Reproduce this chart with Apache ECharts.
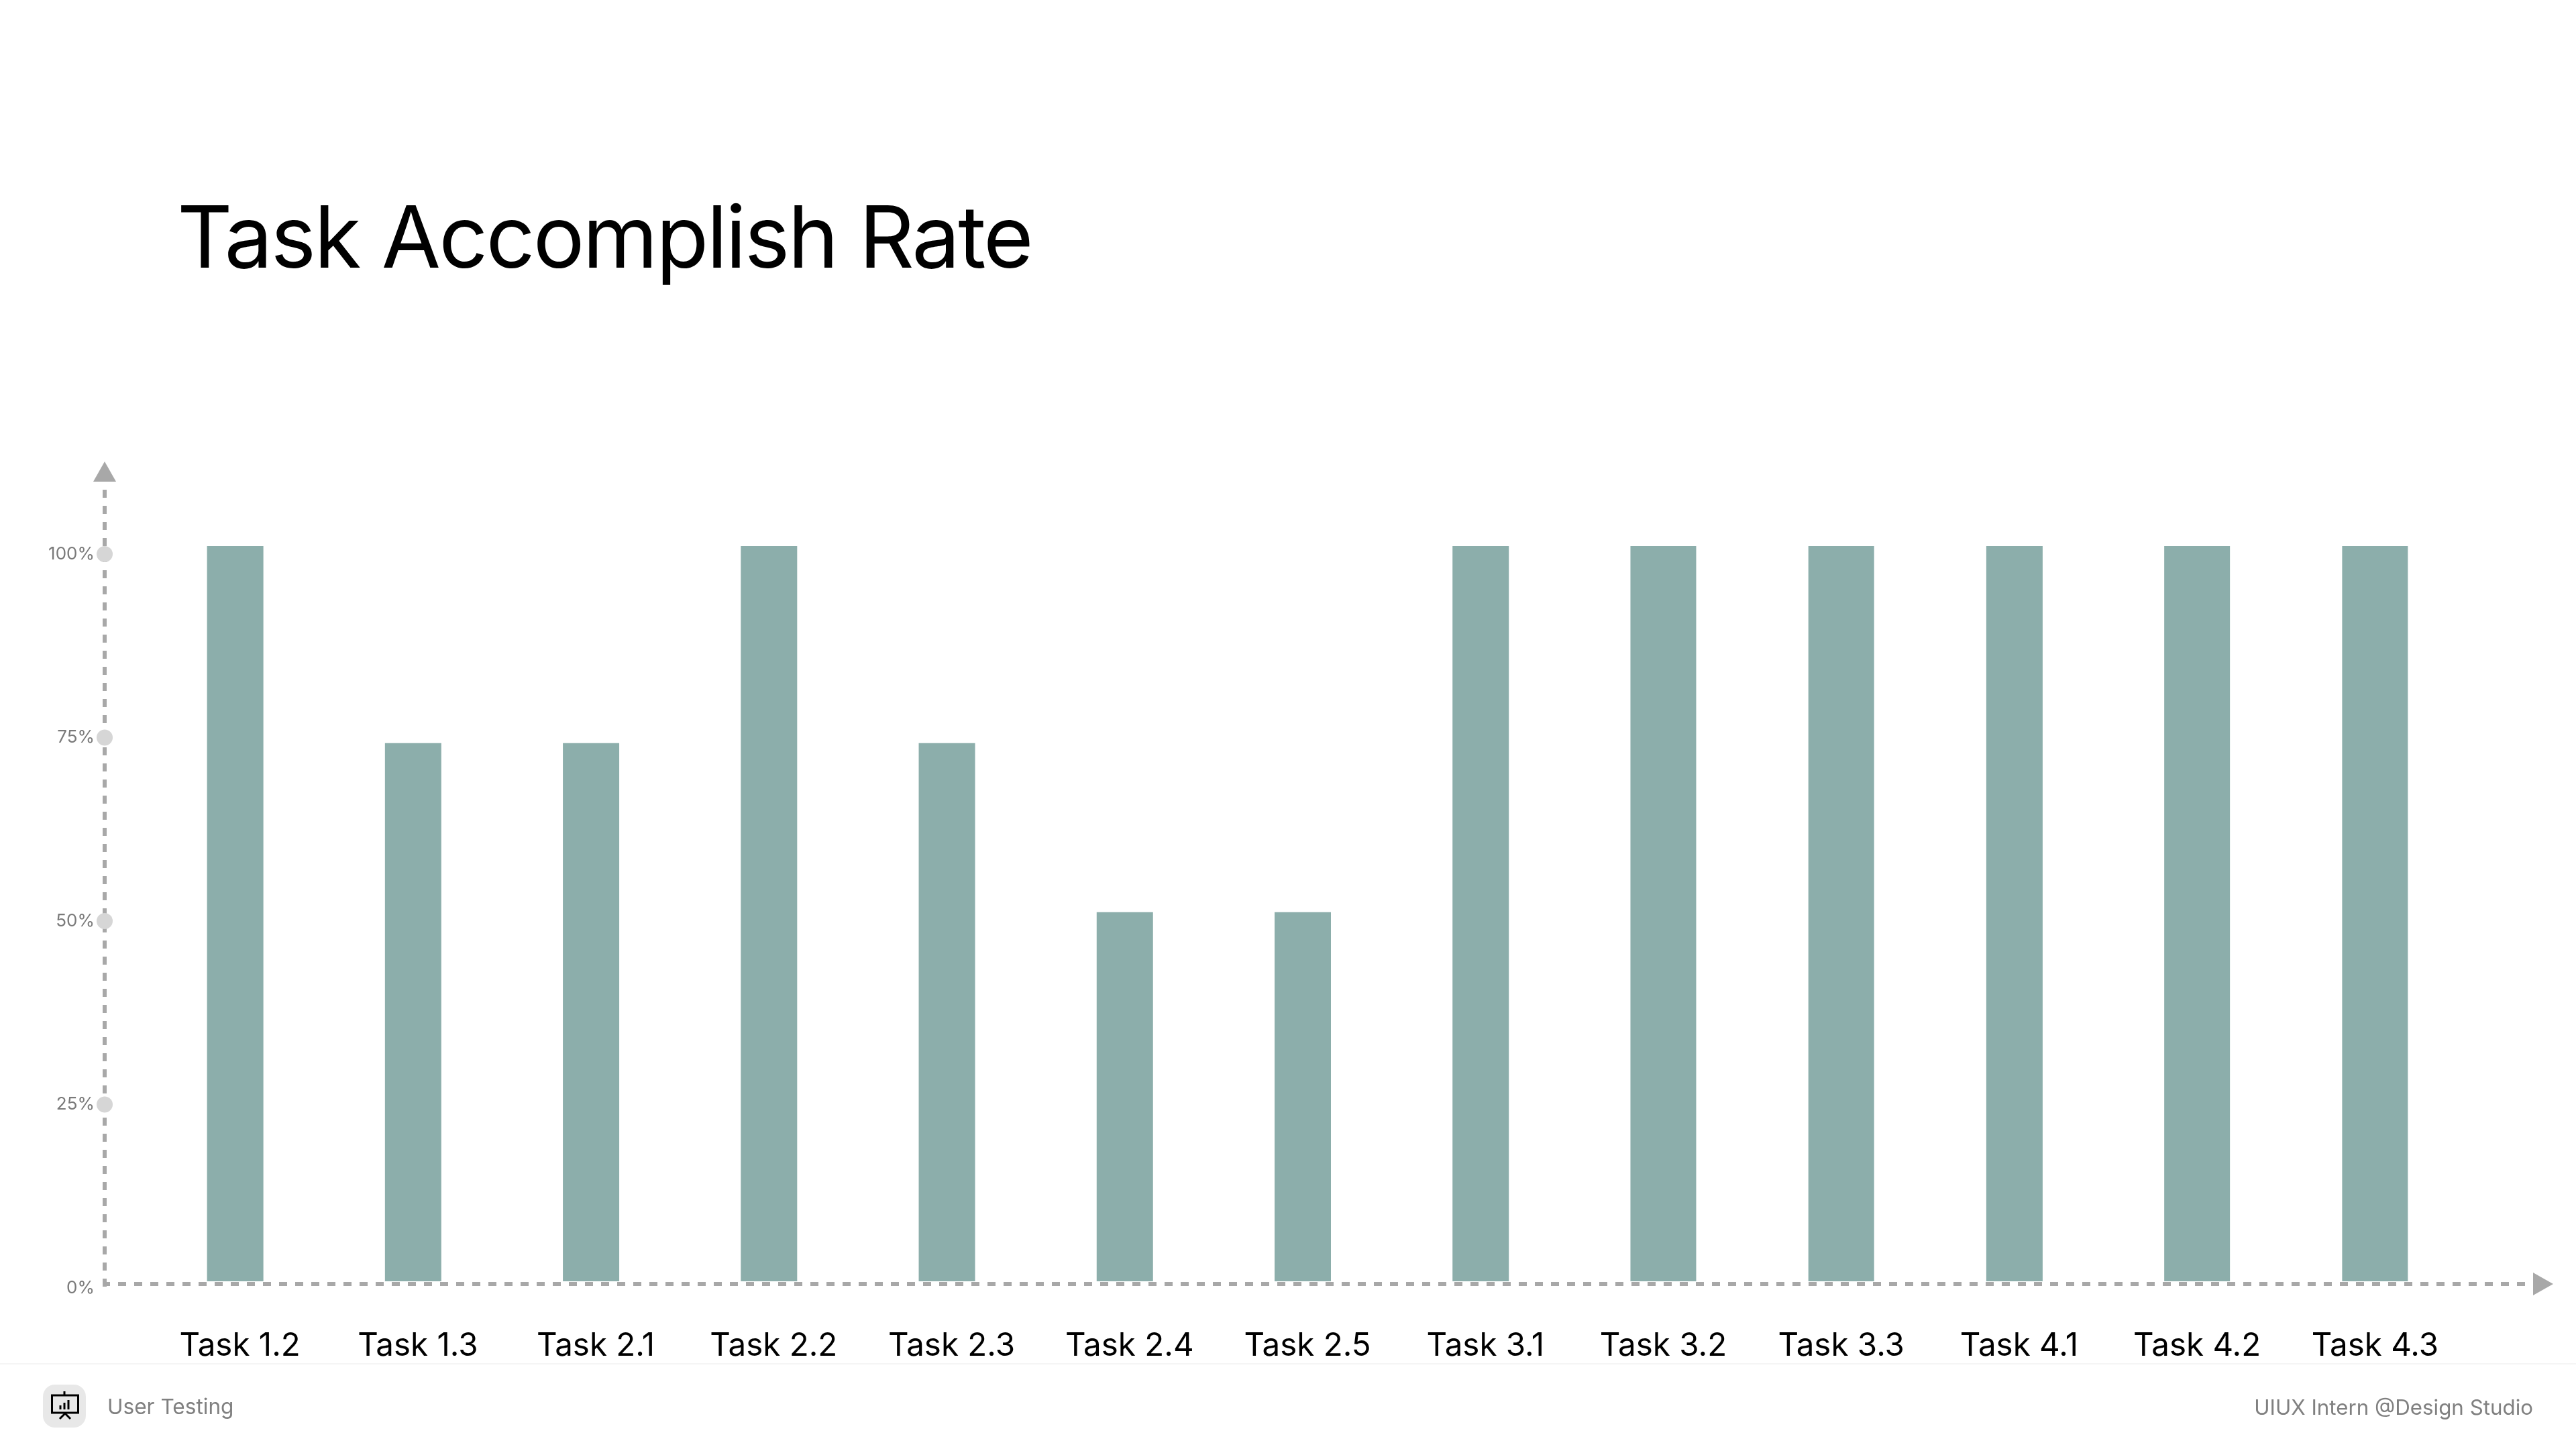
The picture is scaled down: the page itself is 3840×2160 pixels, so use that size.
<!DOCTYPE html>
<html><head><meta charset="utf-8">
<style>html,body{margin:0;background:#fff}#c{width:3840px;height:2160px}</style>
<script src="https://cdn.jsdelivr.net/npm/echarts@6/dist/echarts.min.js"></script>
</head><body><div id="c"></div>
<script>
const titleText = 'Task Accomplish Rate';
const footerLeft = 'User Testing';
const footerRight = 'UIUX Intern @Design Studio';
const categories = ['Task 1.2','Task 1.3','Task 2.1','Task 2.2','Task 2.3','Task 2.4','Task 2.5','Task 3.1','Task 3.2','Task 3.3','Task 4.1','Task 4.2','Task 4.3'];
const values = [100,73.2,73.2,100,73.2,50.2,50.2,100,100,100,100,100,100];
const wideTasks = ['Task 3.2','Task 3.3','Task 4.2','Task 4.3'];
const yTicks = [25,50,75,100];

// The title in the reference is set with tight tracking; ECharts has no letter-spacing option.
const _fillText = CanvasRenderingContext2D.prototype.fillText;
CanvasRenderingContext2D.prototype.fillText = function (t, x, y, m) {
  const tight = t === titleText;
  if (tight) this.letterSpacing = '-2.85px';
  const r = m === undefined ? _fillText.call(this, t, x, y) : _fillText.call(this, t, x, y, m);
  if (tight) this.letterSpacing = '0px';
  return r;
};

const chart = echarts.init(document.getElementById('c'), null, {renderer:'canvas', width:3840, height:2160});
const FONT = 'Inter';
const AXIS = '#a8a8a8', BAR = '#8caeab';
const narrowVals = values.map((v,i)=> wideTasks.includes(categories[i]) ? null : v);
const wideVals = values.map((v,i)=> wideTasks.includes(categories[i]) ? v : null);
const iconStroke = {stroke:'#000', lineWidth:3, fill:null};

chart.setOption({
  animation:false,
  backgroundColor:'#fff',
  textStyle:{fontFamily:FONT},
  title:{text:titleText,left:259,top:292,textStyle:{fontFamily:FONT,fontSize:128,fontWeight:400,color:'#000'}},
  grid:[
    {left:156,width:3608,top:730,height:1190},
    {left:225,width:3448,top:814,height:1096}
  ],
  xAxis:[
    {gridIndex:0,type:'value',min:0,max:1,offset:-6,axisLabel:{show:false},axisTick:{show:false},splitLine:{show:false},
     axisLine:{show:true,symbol:['none','triangle'],symbolSize:[34,30],symbolOffset:[0,27],
       lineStyle:{color:AXIS,width:6,type:[12,12],dashOffset:4,cap:'butt'}}},
    {gridIndex:1,type:'category',data:categories,axisLine:{show:false},axisTick:{show:false},
     axisLabel:{show:true,interval:0,margin:73,fontFamily:FONT,fontSize:47.5,color:'#000'}}
  ],
  yAxis:[
    {gridIndex:0,type:'value',min:0,max:108.78,interval:25,splitLine:{show:false},axisTick:{show:false},
     axisLine:{show:true,symbol:['none','triangle'],symbolSize:[34,30],symbolOffset:[0,27],
       lineStyle:{color:AXIS,width:6,type:[12,12],dashOffset:22,cap:'butt'}},
     axisLabel:{show:true,margin:15,showMaxLabel:false,fontFamily:FONT,fontSize:26,color:'#7a7a7a',
       formatter:v=> v+'%'}},
    {gridIndex:1,type:'value',min:0,max:100,show:false}
  ],
  series:[
    {name:'Accomplish rate',type:'bar',xAxisIndex:1,yAxisIndex:1,data:narrowVals,barWidth:84,barGap:'-100%',itemStyle:{color:BAR}},
    {name:'Accomplish rate (wide)',type:'bar',xAxisIndex:1,yAxisIndex:1,data:wideVals,barWidth:98,barGap:'-100%',itemStyle:{color:BAR}},
    {name:'Ticks',type:'scatter',xAxisIndex:0,yAxisIndex:0,data:yTicks.map(t=>[0,t]),symbol:'circle',symbolSize:24,itemStyle:{color:'#d6d6d6',opacity:1},z:5}
  ],
  graphic:[
    {type:'rect',shape:{x:0,y:2032,width:3840,height:2},style:{fill:'#f5f5f5'},silent:true},
    {type:'rect',shape:{x:64,y:2064,width:64,height:64,r:18},style:{fill:'#e8e8e8'},silent:true},
    {type:'rect',shape:{x:77.5,y:2080,width:39,height:26},style:iconStroke,silent:true},
    {type:'line',shape:{x1:96,y1:2074,x2:96,y2:2080},style:iconStroke,silent:true},
    {type:'polyline',shape:{points:[[89,2115],[97,2107],[105,2115]]},style:iconStroke,silent:true},
    {type:'line',shape:{x1:90,y1:2095,x2:90,y2:2101},style:iconStroke,silent:true},
    {type:'line',shape:{x1:96,y1:2091,x2:96,y2:2101},style:iconStroke,silent:true},
    {type:'line',shape:{x1:102,y1:2087,x2:102,y2:2101},style:iconStroke,silent:true},
    {type:'text',style:{text:footerLeft,x:160,y:2098,verticalAlign:'middle',fontFamily:FONT,fontSize:31.6,fill:'#808080'},silent:true},
    {type:'text',style:{text:footerRight,x:3776,y:2100,align:'right',verticalAlign:'middle',fontFamily:FONT,fontSize:31.3,fill:'#808080'},silent:true}
  ]
});
</script></body></html>
